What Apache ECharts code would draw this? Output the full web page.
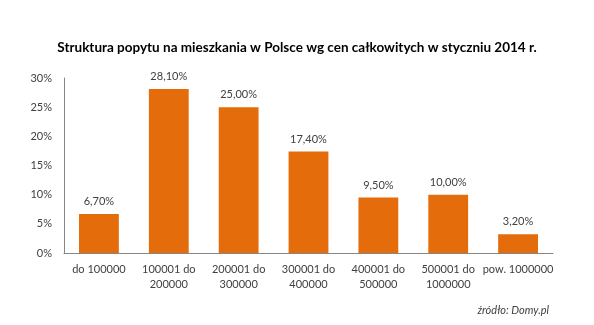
<!DOCTYPE html>
<html><head><meta charset="utf-8">
<script src="https://cdn.jsdelivr.net/npm/echarts@6/dist/echarts.min.js"></script>
<style>html,body{margin:0;padding:0;background:#fff}#c{width:594px;height:325px}</style>
</head><body><div id="c"></div>
<script>
const categories = ["do 100000", "100001 do\n200000", "200001 do\n300000", "300001 do\n400000", "400001 do\n500000", "500001 do\n1000000", "pow. 1000000"];
const values = [6.7, 28.1, 25.0, 17.4, 9.5, 10.0, 3.2];
const yTicks = [0, 5, 10, 15, 20, 25, 30];
const titleText = "Struktura popytu na mieszkania w Polsce wg cen całkowitych w styczniu 2014 r.";
const sourceText = "źródło: Domy.pl";
const font = "Lato, 'Open Sans', sans-serif";
const chart = echarts.init(document.getElementById('c'));
chart.setOption({
  animation: false,
  title: [{
    text: titleText, left: 'center', top: 36,
    textStyle: {fontFamily: font, fontSize: 13.5, fontWeight: 'bold', color: '#000'}
  }, {
    text: sourceText, right: 40, top: 300,
    textStyle: {fontFamily: font, fontSize: 11, fontStyle: 'italic', fontWeight: 'normal', color: '#404040'}
  }],
  grid: {left: 64, right: 41, top: 78, bottom: 72},
  xAxis: {
    type: 'category', data: categories,
    axisLine: {lineStyle: {color: '#868686'}},
    axisTick: {show: false},
    axisLabel: {fontFamily: font, fontSize: 11, color: '#404040', lineHeight: 15, margin: 9, interval: 0}
  },
  yAxis: {
    type: 'value', min: yTicks[0], max: yTicks[yTicks.length - 1], interval: 5,
    axisLine: {show: true, lineStyle: {color: '#868686'}},
    axisTick: {show: false},
    splitLine: {show: false},
    axisLabel: {fontFamily: font, fontSize: 11, color: '#404040', margin: 12, formatter: v => v + '%'}
  },
  series: [{
    type: 'bar', data: values, barWidth: '57%',
    itemStyle: {color: '#E46C0A'},
    label: {show: true, position: 'top', distance: 7, fontFamily: font, fontSize: 11, color: '#404040',
      formatter: p => p.value.toFixed(2).replace('.', ',') + '%'}
  }]
});
</script></body></html>
